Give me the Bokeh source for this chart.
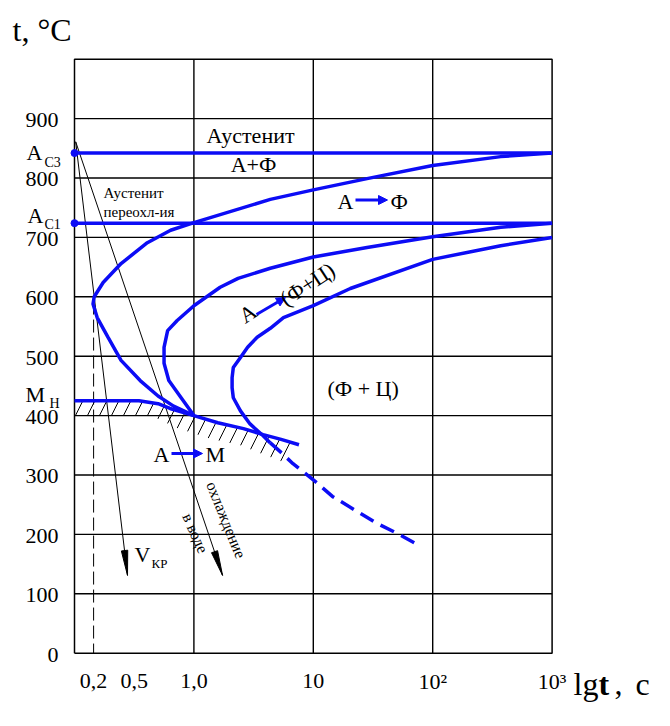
import math
from bokeh.plotting import figure
from bokeh.models import Label, Arrow, NormalHead, Range1d
from bokeh.core.properties import value
from bokeh.embed import file_html
from bokeh.resources import INLINE

# ---------------- data (x = lg t, schematic decades; y = temperature, °C) ----------------
x_min, x_max = -1.0, 3.0
t_min, t_max = 0, 1000
x_ticks = [-0.84, -0.5, 0, 1, 2, 3]
x_tick_labels = ["0,2", "0,5", "1,0", "10", "10²", "10³"]
x_grid = [0, 1, 2]
y_ticks = [0, 100, 200, 300, 400, 500, 600, 700, 800, 900]
y_tick_labels = [str(v) for v in y_ticks]

ac3_t = 842
ac1_t = 724
mh_t = 425

# start of austenite decomposition (first C-curve)
curve1_x = [3.0, 2.57, 2.0, 1.45, 1.0, 0.64, 0.0, -0.195, -0.39, -0.61, -0.76, -0.835, -0.845,
            -0.81, -0.72, -0.61, -0.45, -0.30, -0.17, 0.0]
curve1_t = [842, 836, 821, 799, 780, 764, 725, 712, 691, 656, 624, 600, 588,
            565, 532, 493, 459, 433, 416, 400]

# second C-curve
curve2_x = [3.0, 2.57, 2.0, 1.45, 1.0, 0.64, 0.37, 0.22, 0.0, -0.14, -0.22, -0.25, -0.25,
            -0.21, -0.11, 0.0]
curve2_t = [724, 717, 701, 683, 667, 648, 631, 616, 585, 560, 543, 515, 488,
            459, 431, 400]

# end of transformation (third C-curve)
curve3_x = [3.0, 2.57, 2.0, 1.31, 1.0, 0.75, 0.64, 0.53, 0.45, 0.39, 0.33, 0.32, 0.32,
            0.33, 0.39, 0.47, 0.58, 0.64]
curve3_t = [700, 686, 663, 614, 585, 565, 547, 532, 515, 498, 481, 464, 447,
            430, 408, 386, 366, 354]

# dashed continuation of the third curve
curve3d_x = [0.64, 0.73, 0.83, 1.0, 1.16, 1.34, 1.52, 1.71, 1.90]
curve3d_t = [354, 338, 319, 292, 264, 242, 220, 201, 180]

# martensite start line
mh_x = [-1.0, -0.46, -0.30, -0.20, 0.0, 0.2, 0.415, 0.58, 0.73, 0.88]
mh_t = [425, 425, 420, 412, 400, 388, 378, 368, 360, 351]

# lower edge of the hatched band (right to left)
hatch_low_x = [0.73, 0.39, 0.14, -0.14, -0.36, -1.0]
hatch_low_t = [323, 350, 361, 379, 400, 400]

# cooling lines
cool_start = (-0.99, 861)
vkr_end = (-0.556, 131)
water_end = (0.24, 131)

# dashed vertical at 0.2 s
v02_x = -0.84
v02_t = [592, 0]

# ---------------- geometry helpers (page pixels <-> data) ----------------
FX0, FY0 = 74.0, 652.7      # page px of plot-box left / bottom
SX, SY = 119.4, 0.594       # px per unit
W, H = 662, 716
BASE_FIX = 0.37             # renderer baseline correction (fraction of font size)


def X(px):
    return -1 + (px - FX0) / SX


def Y(py):
    return (FY0 - py) / SY


def PY(t):
    return FY0 - t * SY


BLUE = "#0c0cf5"
FONT = "Liberation Serif"

p = figure(width=W, height=H, output_backend="svg", toolbar_location=None,
           x_range=Range1d(X(0), X(W)), y_range=Range1d(Y(H), Y(0)),
           x_axis_type=None, y_axis_type=None,
           min_border_left=0, min_border_right=0, min_border_top=0, min_border_bottom=0)
p.background_fill_color = "white"
p.border_fill_color = "white"
p.outline_line_color = None
p.grid.visible = False

# grid and plot box
p.segment(x0=x_grid, y0=[t_min] * len(x_grid), x1=x_grid, y1=[t_max] * len(x_grid),
          line_color="black", line_width=1.4)
p.segment(x0=[x_min] * (len(y_ticks) - 1), y0=y_ticks[1:], x1=[x_max] * (len(y_ticks) - 1),
          y1=y_ticks[1:], line_color="black", line_width=1.4)
p.line([x_min, x_max, x_max, x_min, x_min], [t_min, t_min, t_max, t_max, t_min],
       line_color="black", line_width=1.5)

# tick labels
p.text(x=[X(58)] * len(y_ticks), y=[Y(PY(v) + 9.5 - BASE_FIX * 22) for v in y_ticks],
       text=y_tick_labels, text_font=value(FONT), text_font_size="22px", text_align="right",
       text_baseline="alphabetic", text_color="black")
p.text(x=x_ticks, y=[Y(689 - BASE_FIX * 22)] * len(x_ticks), text=x_tick_labels,
       text_font=value(FONT), text_font_size="22px", text_align="center",
       text_baseline="alphabetic", text_color="black")

# hatched band below Mн line
p.patch(mh_x + hatch_low_x, mh_t + hatch_low_t, fill_alpha=0, line_alpha=0,
        hatch_pattern="/", hatch_color="black", hatch_scale=24, hatch_weight=1)

# dashed vertical
p.line([v02_x, v02_x], v02_t, line_color="black", line_width=1, line_dash="13 5")


# cooling lines with narrow arrowheads
def arrowhead(x0, y0, x1, y1, length=25, half=3.2):
    dx, dy = (x1 - x0) * SX, (y1 - y0) * SY
    L = math.hypot(dx, dy)
    ux, uy = dx / L, dy / L
    bx, by = x1 * SX - ux * length, y1 * SY - uy * length
    nx, ny = -uy, ux
    pts = [(x1 * SX, y1 * SY), (bx + nx * half, by + ny * half), (bx - nx * half, by - ny * half)]
    return [q[0] / SX for q in pts], [q[1] / SY for q in pts]


for end in (vkr_end, water_end):
    p.line([cool_start[0], end[0]], [cool_start[1], end[1]], line_color="black", line_width=1)
    hx, hy = arrowhead(cool_start[0], cool_start[1], end[0], end[1])
    p.patch(hx, hy, fill_color="black", line_color="black", line_width=1)

# horizontal critical lines
p.line([x_min, x_max], [ac3_t, ac3_t], line_color=BLUE, line_width=3.5)
p.line([x_min, x_max], [ac1_t, ac1_t], line_color=BLUE, line_width=3.5)
p.scatter([x_min] * 3, [ac3_t, ac1_t, mh_t], size=7, color=BLUE)

# C-curves
p.line(curve1_x, curve1_t, line_color=BLUE, line_width=3.5)
p.line(curve2_x, curve2_t, line_color=BLUE, line_width=3.5)
p.line(curve3_x, curve3_t, line_color=BLUE, line_width=3.5)
p.line(curve3d_x, curve3d_t, line_color=BLUE, line_width=3.5, line_dash="15 8")
p.line(mh_x, mh_t, line_color=BLUE, line_width=3.5)

# blue arrows
for (x0, y0, x1, y1) in [(355, 199.5, 387, 199.5), (171, 453, 202, 453), (256, 314, 285, 297)]:
    p.add_layout(Arrow(end=NormalHead(size=9, fill_color=BLUE, line_color=BLUE),
                       x_start=X(x0), y_start=Y(y0), x_end=X(x1), y_end=Y(y1),
                       line_color=BLUE, line_width=3))

# texts: (px, baseline py, text, size, align, angle deg, style)
texts = [
    (250, 143, "Аустенит", 22, "center", 0, "normal"),
    (253, 172, "А+Ф", 22, "center", 0, "normal"),
    (103, 198, "Аустенит", 15, "left", 0, "normal"),
    (103, 217, "переохл-ия", 15, "left", 0, "normal"),
    (337, 209, "А", 22, "left", 0, "normal"),
    (390, 209, "Ф", 22, "left", 0, "normal"),
    (327, 396, "(Ф  +  Ц)", 22, "left", 0, "normal"),
    (153, 462, "А", 22, "left", 0, "normal"),
    (205, 462, "М", 22, "left", 0, "normal"),
    (245, 324, "А", 22, "left", 33, "normal"),
    (286, 307, "(Ф+Ц)", 22, "left", 33, "normal"),
    (205, 484, "охлаждение", 16, "left", -68, "normal"),
    (181, 516, "в воде", 16, "left", -66, "normal"),
    (134, 562, "V", 22, "left", 0, "normal"),
    (151, 568, "КР", 13, "left", 0, "normal"),
    (26, 160, "A", 22, "left", 0, "normal"),
    (44, 167, "С3", 14, "left", 0, "normal"),
    (27, 223, "A", 22, "left", 0, "normal"),
    (44, 229, "С1", 14, "left", 0, "normal"),
    (25, 402, "М", 22, "left", 0, "normal"),
    (49, 408, "Н", 14, "left", 0, "normal"),
    (12, 41, "t, °С", 32, "left", 0, "normal"),
    (573, 695, "lg", 32, "left", 0, "normal"),
    (598, 695, "t", 32, "left", 0, "bold"),
    (614, 695, ",", 32, "left", 0, "normal"),
    (635, 695, "c", 32, "left", 0, "normal"),
]
for (px, py, txt, size, align, ang, style) in texts:
    d = BASE_FIX * size
    a = math.radians(ang)
    qx = px - math.sin(a) * d
    qy = py - math.cos(a) * d
    p.add_layout(Label(x=X(qx), y=Y(qy), text=txt, text_font=FONT, text_font_size=f"{size}px",
                       text_align=align, text_baseline="alphabetic", angle=ang, angle_units="deg",
                       text_color="black", text_font_style=style))

open("out.html", "w").write(file_html(p, INLINE))
